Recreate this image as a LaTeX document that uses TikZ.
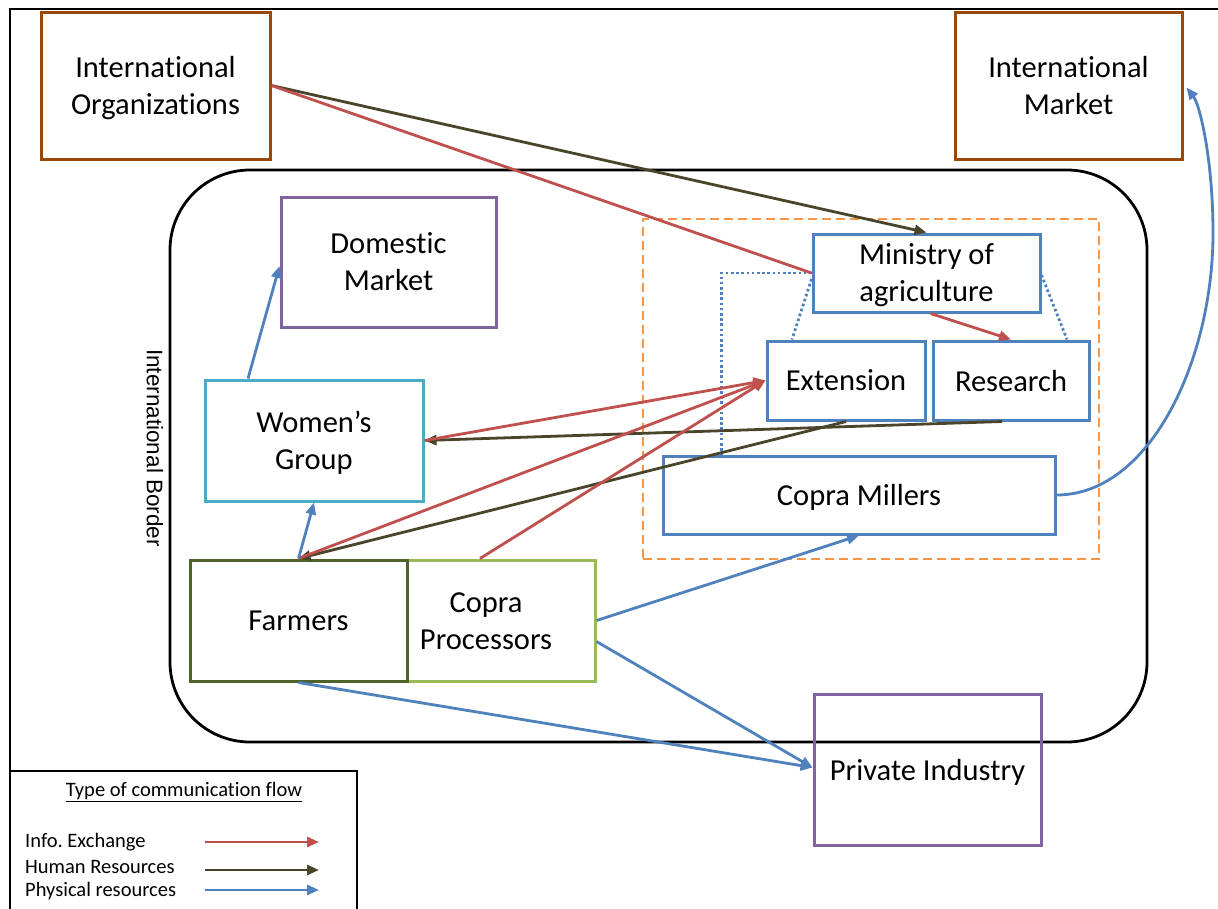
\documentclass[tikz,border=0pt]{standalone}
\usepackage{fontspec}
\setmainfont[Ligatures=NoCommon]{Carlito}
\newfontfamily\arialfont{Liberation Sans}
\usetikzlibrary{arrows.meta}
\definecolor{cBrown}{RGB}{152,72,7}
\definecolor{cPurple}{RGB}{128,100,162}
\definecolor{cCyan}{RGB}{75,172,198}
\definecolor{cDkGreen}{RGB}{79,98,40}
\definecolor{cLtGreen}{RGB}{155,187,89}
\definecolor{cBlue}{RGB}{79,129,189}
\definecolor{cOrange}{RGB}{247,150,70}
\definecolor{cRed}{RGB}{192,80,77}
\definecolor{cOlive}{RGB}{74,69,42}
\frenchspacing
\begin{document}
\begin{tikzpicture}[x=1pt,y=-1pt,
  box/.style={draw, line width=3pt, rectangle, inner sep=0pt, align=center,
    text depth=0pt, font=\fontsize{30.5}{37}\selectfont},
  txt/.style={inner sep=0pt, align=center, text depth=0pt, font=\fontsize{30.5}{37}\selectfont},
  conn/.style={line width=2.8pt, -{Triangle[length=12pt,width=10pt]}},
  info/.style={conn, cRed},
  human/.style={conn, cOlive},
  phys/.style={conn, cBlue},
  dotline/.style={cBlue, line width=2.8pt, dash pattern=on 2.6pt off 2.6pt},
  legtxt/.style={inner sep=0pt, anchor=west, font=\fontsize{20.5}{24}\selectfont}
]
\useasboundingbox (0,0) rectangle (1218,908);
% outer frame (top and left)
\coordinate (frTR) at (1218,9);
\coordinate (frTL) at (10,9);
\coordinate (frBL) at (10,908);
\draw[line width=2pt] (frTR) -- (frTL) -- (frBL);

% international border
\node[draw, line width=2.8pt, rounded corners=80pt, minimum width=977pt, minimum height=572pt] (border) at (658.5,456) {};
\node[rotate=-90, inner sep=0pt, font=\arialfont\fontsize{22.5}{26}\selectfont] (ib) at (155,448) {International Border};

% boxes
\node[box, draw=cBrown, minimum width=229pt, minimum height=147pt] (IO) at (155.5,85.5) {International\\Organizations};
\node[box, draw=cBrown, minimum width=227pt, minimum height=147pt] (IM) at (1068.5,85.5) {International\\Market};
\node[box, draw=cPurple, minimum width=215pt, minimum height=130pt] (DM) at (388.5,262) {Domestic\\Market};
\node[box, draw=cCyan, minimum width=218pt, minimum height=121pt] (WG) at (314,440.5) {Women’s\\Group};
\node[box, draw=cLtGreen, minimum width=188pt, minimum height=121pt] (CP) at (501,620.5) {};
\node[txt] (CPtext) at (486,621) {Copra\\Processors};
\node[box, draw=cDkGreen, minimum width=217pt, minimum height=121pt] (FA) at (298.5,620.5) {Farmers};
\node[box, draw=cPurple, minimum width=227pt, minimum height=151pt] (PI) at (927.5,769.5) {Private Industry};

% government group
\node[draw=cOrange, line width=2.8pt, dash pattern=on 9pt off 5pt, rectangle, minimum width=456pt, minimum height=340pt] (GOV) at (871,389) {};
\node[box, draw=cBlue, minimum width=227pt, minimum height=78pt] (Min) at (926.5,273) {Ministry of\\agriculture};
\node[box, draw=cBlue, minimum width=158pt, minimum height=79pt] (Ext) at (846,380.5) {Extension};
\node[box, draw=cBlue, minimum width=156pt, minimum height=79pt] (Res) at (1011,380.5) {Research};
\node[box, draw=cBlue, minimum width=392pt, minimum height=78pt] (CM) at (859,495) {Copra Millers};

% dotted links
\draw[dotline] (Min.west) -| ([xshift=60pt]CM.north west);
\draw[dotline] ([yshift=-6pt]Min.west) -- ([xshift=-54pt]Ext.north);
\draw[dotline] ([yshift=-2pt]Min.east) -- ([xshift=56pt]Res.north);

% human resources
\draw[human] (IO.east) -- (Min.north);
\draw[human] ([xshift=-9pt]Res.south) -- (WG.east);
\draw[human] (Ext.south) -- (FA.north);

% info exchange
\draw[cRed, line width=2.8pt] (IO.east) -- (Min.west);
\draw[info] ([xshift=4pt]Min.south) -- (Res.north);
\draw[info] (WG.east) -- (Ext.west);
\draw[info] (FA.north) -- (Ext.west);
\draw[info] ([xshift=-21pt]CP.north) -- (Ext.west);

% physical resources
\draw[phys] ([xshift=-66pt]WG.north) -- ([yshift=-4pt]DM.west);
\draw[phys] (FA.north) -- (WG.south);
\draw[phys] (CP.east) -- (CM.south);
\draw[phys] ([yshift=-21pt]CP.east) -- ([yshift=2pt]PI.west);
\draw[phys] (FA.south) -- ([yshift=2pt]PI.west);
\draw[phys] (CM.east) .. controls (1150,495) and (1213,360) .. (1213,233)
   .. controls (1213,160) and (1200,105) .. ([xshift=3pt,yshift=-2pt]IM.east);

% legend
\node[draw, line width=2.6pt, rectangle, minimum width=347pt, minimum height=150pt, inner sep=0pt] (LG) at (183.5,846) {};
\node[inner sep=0pt, font=\fontsize{20.5}{24}\selectfont] (LGtitle) at (184,792) {\underline{Type of communication flow}};
\node[legtxt] (L1) at (25,842) {Info. Exchange};
\node[legtxt] (L2) at (25,867) {Human Resources};
\node[legtxt] (L3) at (25,891) {Physical resources};
\coordinate (a1s) at (205,842); \coordinate (a1e) at (319,842);
\coordinate (a2s) at (205,870); \coordinate (a2e) at (319,870);
\coordinate (a3s) at (205,890); \coordinate (a3e) at (319,890);
\draw[info] (a1s) -- (a1e);
\draw[human] (a2s) -- (a2e);
\draw[phys] (a3s) -- (a3e);
\end{tikzpicture}
\end{document}
